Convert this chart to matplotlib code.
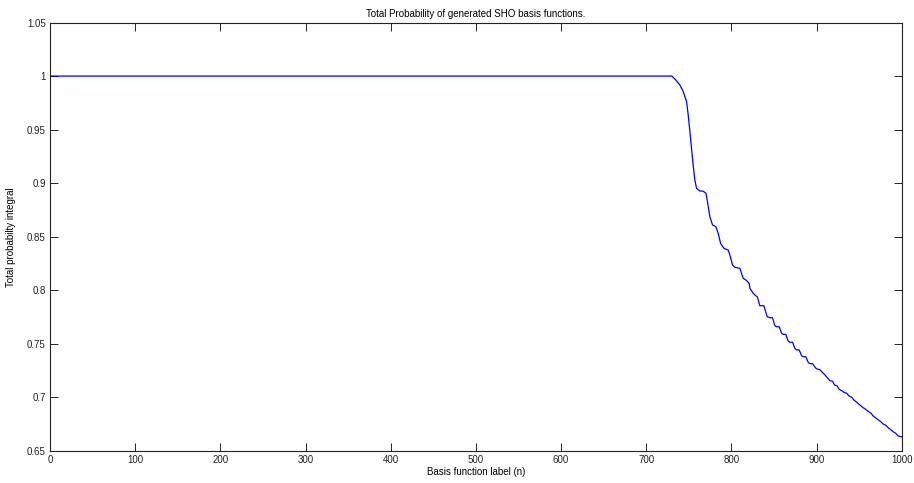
import matplotlib
matplotlib.use("Agg")
import matplotlib.pyplot as plt

# values
n = [0, 100, 200, 300, 400, 500, 600, 700, 730, 734.7, 739.4, 743.3, 747.3,
     749.2, 751.2, 755.0, 757.0, 759.0, 762.9, 766.8, 770.0, 771.5, 774.6,
     777.8, 781.7, 784.4, 787.2, 791.1, 796.1, 798.1, 801.3, 804.0, 809.9,
     811.8, 813.7, 816.9, 820.8, 821.6, 825.5, 827.5, 830.4, 833.3, 838.0,
     841.9, 845.1, 848.2, 850.9, 852.9, 856.0, 858.8, 860.7, 863.8, 866.5,
     868.5, 871.7, 874.4, 876.4, 879.5, 882.3, 884.2, 887.3, 890.0, 892.0,
     895.2, 899.1, 900.6, 903.8, 909.7, 915.5, 918.7, 921.0, 924.1, 926.4,
     929.6, 931.9, 935.1, 938.1, 941.3, 943.7, 946.8, 949.2, 952.2, 954.6,
     957.7, 960.9, 963.9, 966.3, 969.5, 972.6, 975.7, 978.0, 981.2, 984.4,
     987.4, 989.8, 992.9, 995.7, 1000]
prob = [1.0, 1.0, 1.0, 1.0, 1.0, 1.0, 1.0, 1.0, 1.0, 0.9963, 0.9917, 0.9857,
        0.9761, 0.9637, 0.9481, 0.9170, 0.9030, 0.8952, 0.8927, 0.8925,
        0.8906, 0.8843, 0.8687, 0.8610, 0.8594, 0.8532, 0.8439, 0.8392,
        0.8376, 0.8330, 0.8236, 0.8215, 0.8205, 0.8159, 0.8112, 0.8096,
        0.8065, 0.8019, 0.7972, 0.7956, 0.7938, 0.7856, 0.7856, 0.7754,
        0.7744, 0.7744, 0.7670, 0.7660, 0.7660, 0.7599, 0.7589, 0.7589,
        0.7527, 0.7515, 0.7515, 0.7459, 0.7443, 0.7443, 0.7390, 0.7380,
        0.7380, 0.7328, 0.7315, 0.7315, 0.7272, 0.7265, 0.7258, 0.7210,
        0.7156, 0.7151, 0.7116, 0.7107, 0.7076, 0.7063, 0.7048, 0.7039,
        0.7013, 0.7001, 0.6976, 0.6957, 0.6939, 0.6920, 0.6904, 0.6889,
        0.6867, 0.6852, 0.6827, 0.6808, 0.6789, 0.6771, 0.6752, 0.6740,
        0.6715, 0.6696, 0.6680, 0.6665, 0.6640, 0.6631]

xticks = [0, 100, 200, 300, 400, 500, 600, 700, 800, 900, 1000]
yticks = [0.65, 0.7, 0.75, 0.8, 0.85, 0.9, 0.95, 1.0, 1.05]
ytick_labels = ["0.65", "0.7", "0.75", "0.8", "0.85", "0.9", "0.95", "1", "1.05"]

plt.rcParams['font.family'] = ['Liberation Sans', 'DejaVu Sans']
plt.rcParams['font.size'] = 7

fig = plt.figure(figsize=(9.14, 4.83), dpi=100)
ax = fig.add_axes([0.0547, 0.0663, 0.932, 0.8871])

ax.plot(n, prob, color='#0000ff', linewidth=0.9)

ax.set_xlim(0, 1000)
ax.set_ylim(0.65, 1.05)
ax.set_xticks(xticks)
ax.set_yticks(yticks)
ax.set_yticklabels(ytick_labels)
ax.tick_params(direction='in', length=5.5, width=0.7, top=True, right=True,
               colors='#222222', labelsize=7, pad=3)
for sp in ax.spines.values():
    sp.set_linewidth(0.8)
    sp.set_color('#222222')

ax.set_title("Total Probability of generated SHO basis functions.", fontsize=7, pad=4)
ax.set_xlabel("Basis function label (n)", fontsize=7, labelpad=1)
ax.set_ylabel("Total probabilty integral", fontsize=7, labelpad=8)

fig.savefig("out.png", dpi=100)
